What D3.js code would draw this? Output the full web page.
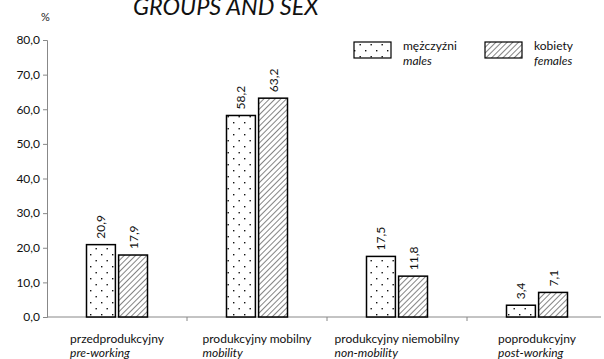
<!DOCTYPE html>
<html>
<head>
<meta charset="utf-8">
<script src="https://cdn.jsdelivr.net/npm/d3@7/dist/d3.min.js"></script>
<style>
  body { margin: 0; background: #fff; }
  svg { display: block; font-family: Lato, "Open Sans", sans-serif; }
</style>
</head>
<body>
<svg id="chart" width="604" height="359"></svg>
<script>
// Population by economic age group and sex (%)
const groupsPl = ["przedprodukcyjny", "produkcyjny mobilny", "produkcyjny niemobilny", "poprodukcyjny"];
const groupsEn = ["pre-working", "mobility", "non-mobility", "post-working"];
const males = [20.9, 58.2, 17.5, 3.4];
const females = [17.9, 63.2, 11.8, 7.1];
const yTicks = [0, 10, 20, 30, 40, 50, 60, 70, 80];
const seriesNames = [["mężczyźni", "males"], ["kobiety", "females"]];

const svg = d3.select("#chart");
const fmt = v => d3.format(".1f")(v).replace(".", ",");
const FS = 12;

// fill patterns
const defs = svg.append("defs");
const dots = defs.append("pattern").attr("id", "dots")
  .attr("patternUnits", "userSpaceOnUse").attr("width", 11).attr("height", 12);
dots.append("rect").attr("width", 11).attr("height", 12).attr("fill", "#fff");
dots.append("rect").attr("x", 2).attr("y", 2).attr("width", 1.4).attr("height", 1.4).attr("fill", "#111");
dots.append("rect").attr("x", 7.5).attr("y", 8).attr("width", 1.4).attr("height", 1.4).attr("fill", "#111");

const hatch = defs.append("pattern").attr("id", "hatch")
  .attr("patternUnits", "userSpaceOnUse").attr("width", 4).attr("height", 4)
  .attr("patternTransform", "rotate(45)");
hatch.append("rect").attr("width", 4).attr("height", 4).attr("fill", "#fff");
hatch.append("line").attr("x1", 0).attr("y1", 0).attr("x2", 0).attr("y2", 4)
  .attr("stroke", "#333").attr("stroke-width", 1.2);

const x0 = 47, x1 = 607, yTop = 40, yBot = 317;
const x = d3.scaleBand().domain(groupsPl).range([x0, x1]);
const xs = d3.scaleBand().domain([0, 1]).range([0, 61]).paddingInner(0.1);
const y = d3.scaleLinear().domain([0, 80]).range([yBot, yTop]);

// title (upper line lies above the canvas)
svg.append("text").attr("x", 133).attr("y", 15)
  .attr("font-size", 23.5).attr("font-style", "italic").attr("fill", "#111")
  .text("GROUPS AND SEX");

svg.append("text").attr("x", 41).attr("y", 21)
  .attr("font-size", 11).attr("fill", "#222").text("%");

// y axis
const yAxis = svg.append("g").attr("transform", `translate(${x0},0)`)
  .call(d3.axisLeft(y).tickValues(yTicks).tickFormat(fmt).tickSize(4).tickPadding(3));
yAxis.select(".domain").attr("stroke", "#888");
yAxis.selectAll(".tick line").attr("stroke", "#888");
yAxis.selectAll("text").attr("font-size", FS).attr("fill", "#111")
  .attr("font-family", "Lato, 'Open Sans', sans-serif");

// x axis
const xAxis = svg.append("g").attr("transform", `translate(0,${yBot})`);
xAxis.append("line").attr("x1", x0).attr("x2", 601).attr("y1", 0).attr("y2", 0).attr("stroke", "#888");
xAxis.selectAll("line.tk").data(groupsPl.slice(1)).join("line").attr("class", "tk")
  .attr("x1", d => x(d)).attr("x2", d => x(d)).attr("y1", 0).attr("y2", 4).attr("stroke", "#888");

// bars
const series = [males, females];
const fills = ["url(#dots)", "url(#hatch)"];
groupsPl.forEach((g, i) => {
  const gx = x(g) + x.bandwidth() / 2 - 30.5;
  series.forEach((s, k) => {
    const bx = gx + xs(k);
    svg.append("rect").attr("x", bx).attr("y", y(s[i]))
      .attr("width", xs.bandwidth()).attr("height", y(0) - y(s[i]))
      .attr("fill", fills[k]).attr("stroke", "#000").attr("stroke-width", 1.5);
    const lx = bx + xs.bandwidth() / 2 + 4.5, ly = y(s[i]) - 6;
    svg.append("text").attr("transform", `translate(${lx},${ly}) rotate(-90)`)
      .attr("font-size", FS).attr("fill", "#111").text(fmt(s[i]));
  });
});

// category labels
groupsPl.forEach((g, i) => {
  const cx = x(g) + x.bandwidth() / 2;
  const t1 = svg.append("text").attr("y", 343).attr("font-size", FS).attr("fill", "#111").text(g);
  const w = t1.node().getComputedTextLength();
  t1.attr("x", cx - w / 2);
  svg.append("text").attr("x", cx - w / 2).attr("y", 357).attr("font-size", FS)
    .attr("font-style", "italic").attr("fill", "#111").text(groupsEn[i]);
});

// legend
const legX = [354, 485];
seriesNames.forEach((n, k) => {
  svg.append("rect").attr("x", legX[k]).attr("y", 42).attr("width", 37).attr("height", 16)
    .attr("fill", fills[k]).attr("stroke", "#000").attr("stroke-width", 1.2);
  svg.append("text").attr("x", legX[k] + 49).attr("y", 50).attr("font-size", FS)
    .attr("fill", "#111").text(n[0]);
  svg.append("text").attr("x", legX[k] + 49).attr("y", 65).attr("font-size", FS)
    .attr("font-style", "italic").attr("fill", "#111").text(n[1]);
});
</script>
</body>
</html>
